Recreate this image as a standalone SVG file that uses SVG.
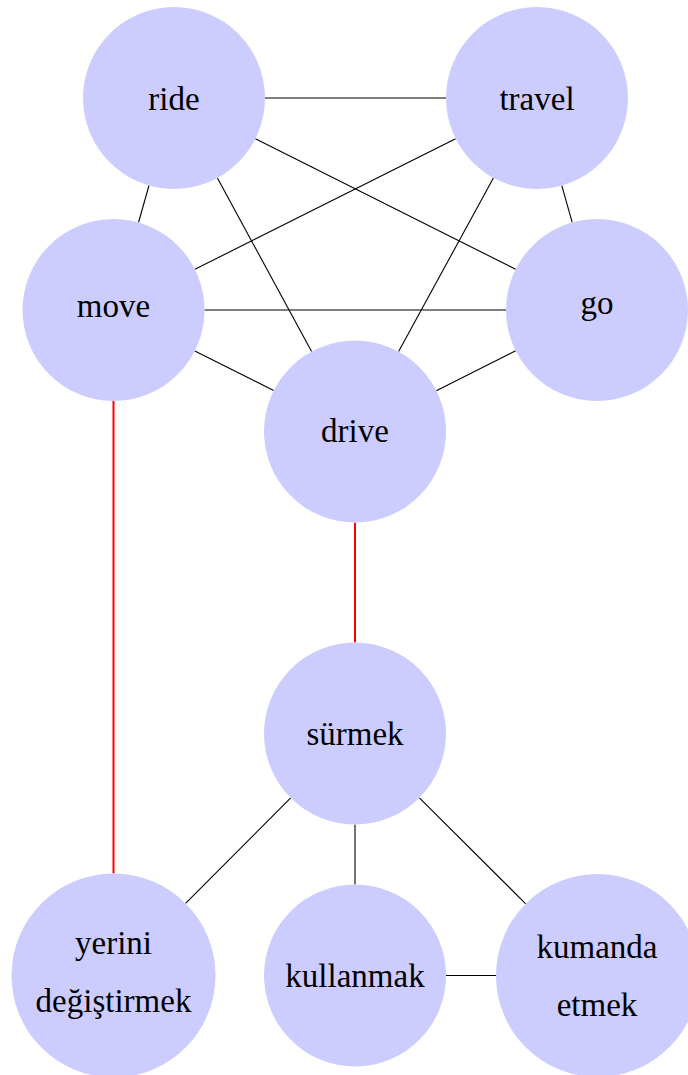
<svg xmlns="http://www.w3.org/2000/svg" width="688" height="1075" viewBox="0 0 688 1075">
  <style>
    .node { fill: #ccccff; stroke: none; }
    .label { font-family: "Liberation Serif", "Times New Roman", serif; font-size: 33px; fill: #000; text-anchor: middle; }
    .edge { stroke: #000; stroke-width: 1.1; fill: none; }
    .link { stroke: #ff0000; stroke-width: 2; fill: none; }
  </style>
  <rect width="688" height="1075" fill="#ffffff"/>

  <!-- connectors, each ending on the node borders -->
  <g id="connectors">
    <line class="edge" x1="265" y1="98" x2="446" y2="98"/>
    <line class="edge" x1="149" y1="185.5" x2="138.5" y2="222.5"/>
    <line class="edge" x1="255.4" y1="138.8" x2="515.6" y2="269.2"/>
    <line class="edge" x1="217.4" y1="178" x2="311.6" y2="351.5"/>
    <line class="edge" x1="455.6" y1="138.7" x2="194.9" y2="269.3"/>
    <line class="edge" x1="493.4" y1="177.9" x2="398.6" y2="351.6"/>
    <line class="edge" x1="561.8" y1="185.6" x2="572.2" y2="222.4"/>
    <line class="edge" x1="204.5" y1="310" x2="506" y2="310"/>
    <line class="edge" x1="194.8" y1="350.9" x2="273.7" y2="390.6"/>
    <line class="edge" x1="515.7" y1="350.8" x2="436.3" y2="390.7"/>
    <line class="link" x1="113.5" y1="401" x2="113.5" y2="873.5"/>
    <line class="link" x1="355" y1="522.5" x2="355" y2="642.5"/>
    <line class="edge" x1="290.7" y1="797.9" x2="185.6" y2="903.3"/>
    <line class="edge" x1="355" y1="824.5" x2="355" y2="884.5"/>
    <line class="edge" x1="419.4" y1="797.8" x2="525.7" y2="903.8"/>
    <line class="edge" x1="446" y1="975.5" x2="496" y2="975.5"/>
  </g>

  <g id="ride">
    <circle class="node" cx="174" cy="98" r="91"/>
    <text class="label" x="174" y="110">ride</text>
  </g>
  <g id="travel">
    <circle class="node" cx="537" cy="98" r="91"/>
    <text class="label" x="537" y="110">travel</text>
  </g>
  <g id="move">
    <circle class="node" cx="113.5" cy="310" r="91"/>
    <text class="label" x="113.5" y="317">move</text>
  </g>
  <g id="go">
    <circle class="node" cx="597" cy="310" r="91"/>
    <text class="label" x="597" y="313.5">go</text>
  </g>
  <g id="drive">
    <circle class="node" cx="355" cy="431.5" r="91"/>
    <text class="label" x="355" y="442">drive</text>
  </g>
  <g id="surmek">
    <circle class="node" cx="355" cy="733.5" r="91"/>
    <text class="label" x="355" y="744.5">sürmek</text>
  </g>
  <g id="yerini-degistirmek">
    <circle class="node" cx="113.5" cy="975.5" r="102"/>
    <text class="label" x="113.5" y="954">yerini</text>
    <text class="label" x="113.5" y="1012">değiştirmek</text>
  </g>
  <g id="kullanmak">
    <circle class="node" cx="355" cy="975.5" r="91"/>
    <text class="label" x="355" y="986.5">kullanmak</text>
  </g>
  <g id="kumanda-etmek">
    <circle class="node" cx="597.5" cy="975.5" r="101.5"/>
    <text class="label" x="597" y="958">kumanda</text>
    <text class="label" x="597" y="1016">etmek</text>
  </g>
</svg>
